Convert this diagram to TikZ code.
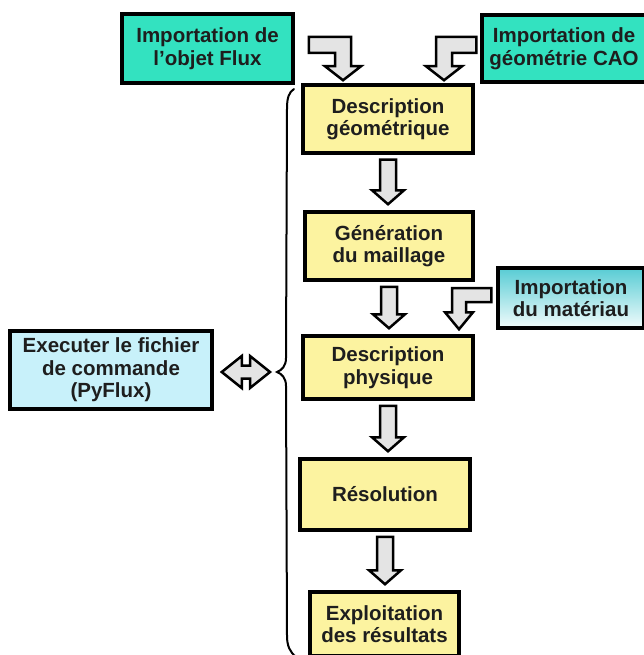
\documentclass[tikz,border=0pt]{standalone}
\usepackage{fontspec}
\setmainfont{Liberation Sans}
\usetikzlibrary{calc}

\definecolor{stepyellow}{HTML}{FCF3A0}
\definecolor{importteal}{HTML}{33E2C0}
\definecolor{runcyan}{HTML}{C8F1FA}
\definecolor{mattop}{HTML}{58CCD4}
\definecolor{matbottom}{HTML}{F2FCFC}
\definecolor{arrowgrey}{HTML}{E4E4E4}
\definecolor{textdark}{HTML}{1E1E1E}

\newcommand\boxfont{\bfseries\fontsize{20.5}{22.5}\selectfont}

\tikzset{
  box/.style={draw=black, line width=3.5pt, align=center, inner sep=0pt,
              font=\boxfont, text=textdark},
  stepbox/.style={box, fill=stepyellow},
  importbox/.style={box, fill=importteal},
  blockarrow/.style={draw=black, line width=2.5pt, fill=arrowgrey, line join=miter},
}

% hollow block arrow from the bottom of one step down to the top of the next
\newcommand\stepflow[2]{%
  \draw[blockarrow] let \p1=($(#1.south)+(0,5)$), \p2=($(#2.north)+(0,-6)$) in
    ({\x1-8pt},\y1) -- ({\x1+8pt},\y1) -- ({\x1+8pt},{\y2+14pt})
    -- ({\x1+16pt},{\y2+14pt}) -- (\x1,\y2) -- ({\x1-16pt},{\y2+14pt})
    -- ({\x1-8pt},{\y2+14pt}) -- cycle;}

% bent block arrow: #1 side of the bend (+1 from the left, -1 from the right),
% #2 tail point, #3 tip, #4 half shaft, #5 half head, #6 head length
\newcommand\bentflow[6]{%
  \draw[blockarrow] let \p1=(#2), \p2=(#3) in
    (\x1,{\y1+#4}) -- ({\x2+(#1)*#4},{\y1+#4}) -- ({\x2+(#1)*#4},{\y2+#6})
    -- ({\x2+(#1)*#5},{\y2+#6}) -- (\x2,\y2) -- ({\x2-(#1)*#5},{\y2+#6})
    -- ({\x2-(#1)*#4},{\y2+#6}) -- ({\x2-(#1)*#4},{\y1-#4}) -- (\x1,{\y1-#4}) -- cycle;}

\begin{document}
\begin{tikzpicture}[x=1pt, y=-1pt]
\useasboundingbox (0,0) rectangle (644,655);

% import boxes
\node[importbox, minimum width=171pt, minimum height=69pt] (flux) at (207.5,48.5)
  {Importation de\\l'objet Flux};
\node[importbox, minimum width=164pt, minimum height=67pt] (cao) at (564,48.5)
  {Importation de\\géométrie CAO};
\node[box, top color=mattop, bottom color=matbottom, minimum width=146pt,
      minimum height=60pt] (mat) at (571,298)
  {Importation\\du matériau};

% command file box
\node[box, fill=runcyan, minimum width=202pt, minimum height=78pt] (exec) at (111,370)
  {Executer le fichier\\de commande\\(PyFlux)};

% processing steps
\node[stepbox, minimum width=170pt, minimum height=68pt] (geo) at (388,119)
  {Description\\géométrique};
\node[stepbox, minimum width=168pt, minimum height=68pt] (gen) at (389,246)
  {Génération\\du maillage};
\node[stepbox, minimum width=170pt, minimum height=63pt] (phys) at (388,367.5)
  {Description\\physique};
\node[stepbox, minimum width=170pt, minimum height=71pt] (reso) at (385,494.5)
  {Résolution};
\node[stepbox, minimum width=149pt, minimum height=64pt] (expl) at (384.5,624)
  {Exploitation\\des résultats};

% brace gathering the steps
\coordinate (bracetip) at (277,372);
\draw[line width=2pt, line cap=round]
  (294,89) .. controls (289,92) and (287,98) .. (287,108)
  -- (286,358) .. controls (286,366) and (282,370) .. (bracetip)
  .. controls (282,374) and (286,378) .. (286,386)
  -- (287,636) .. controls (287,646) and (290,652) .. (296,657);

% two-way arrow between the command file and the steps
\draw[blockarrow] let \p1=($(exec.east)+(8,0)$), \p2=($(bracetip)+(-7,0)$) in
  (\x1,\y2) -- ({\x1+20pt},{\y2+16pt}) -- ({\x1+20pt},{\y2+6.5pt})
  -- ({\x2-20pt},{\y2+6.5pt}) -- ({\x2-20pt},{\y2+16pt}) -- (\x2,\y2)
  -- ({\x2-20pt},{\y2-16pt}) -- ({\x2-20pt},{\y2-6.5pt})
  -- ({\x1+20pt},{\y2-6.5pt}) -- ({\x1+20pt},{\y2-16pt}) -- cycle;

% imports feeding the steps
\bentflow{1}{$(flux.east)+(14,-3.5)$}{$(geo.north)+(-45,-3)$}{8pt}{18pt}{14pt}
\bentflow{-1}{$(cao.west)+(-4,-3.5)$}{$(geo.north)+(56,-3)$}{8pt}{18pt}{14pt}
\bentflow{-1}{$(mat.west)+(-5,-3)$}{$(phys.north)+(71,-5)$}{7pt}{14pt}{17pt}

% step sequence
\stepflow{geo}{gen}
\stepflow{gen}{phys}
\stepflow{phys}{reso}
\stepflow{reso}{expl}
\end{tikzpicture}
\end{document}
